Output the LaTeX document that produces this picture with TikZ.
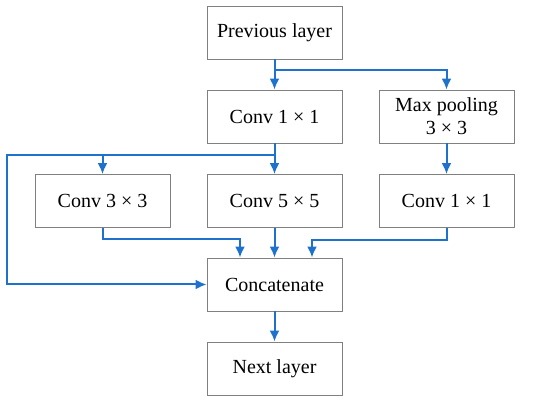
\documentclass[tikz,border=0pt]{standalone}
\usepackage{fontspec}
\setmainfont{Liberation Serif}
\usepackage{tikz}
\usetikzlibrary{arrows.meta, calc}
\definecolor{linkBlue}{RGB}{31, 114, 204}
\definecolor{boxGray}{RGB}{128, 128, 128}

\begin{document}
\begin{tikzpicture}[x=1pt, y=-1pt,
	layer/.style={draw=boxGray, line width=0.9pt, minimum width=135pt, minimum height=53pt,
		inner sep=2pt, align=center, font=\fontsize{20}{23}\selectfont},
	link/.style={draw=linkBlue, line width=2pt, -{Latex[length=11pt, width=10pt]}}]
	\useasboundingbox (0, 0) rectangle (550, 403);
	% boxes
	\node[layer] (prev) at (274.5, 32.5) {Previous layer};
	\node[layer] (conv1) at (274.5, 116.5) {Conv 1 × 1};
	\node[layer] (pool) at (446.5, 116.5) {Max pooling\\3 × 3};
	\node[layer] (conv3) at (102.5, 201) {Conv 3 × 3};
	\node[layer] (conv5) at (274.5, 201) {Conv 5 × 5};
	\node[layer] (convR) at (446.5, 201) {Conv 1 × 1};
	\node[layer] (cat) at (274.5, 284.5) {Concatenate};
	\node[layer] (next) at (274.5, 368.5) {Next layer};
	% split points
	\coordinate (splitA) at (274.5, 70);
	\coordinate (splitB) at (274.5, 155);
	\coordinate (farLeft) at (7, 155);
	% connectors
	\draw[link] (prev.south) -- (conv1.north);
	\draw[link] (splitA) -| (pool.north);
	\draw[link] (conv1.south) -- (conv5.north);
	\draw[link] (splitB) -| (conv3.north);
	\draw[link] (splitB) -- (farLeft) |- (cat.west);
	\draw[link] (pool.south) -- (convR.north);
	\draw[link] (conv3.south) -- ++(0, 11) -| ([xshift=-34.5pt]cat.north);
	\draw[link] (conv5.south) -- (cat.north);
	\draw[link] (convR.south) -- ++(0, 12) -| ([xshift=37.5pt]cat.north);
	\draw[link] (cat.south) -- (next.north);
\end{tikzpicture}
\end{document}
